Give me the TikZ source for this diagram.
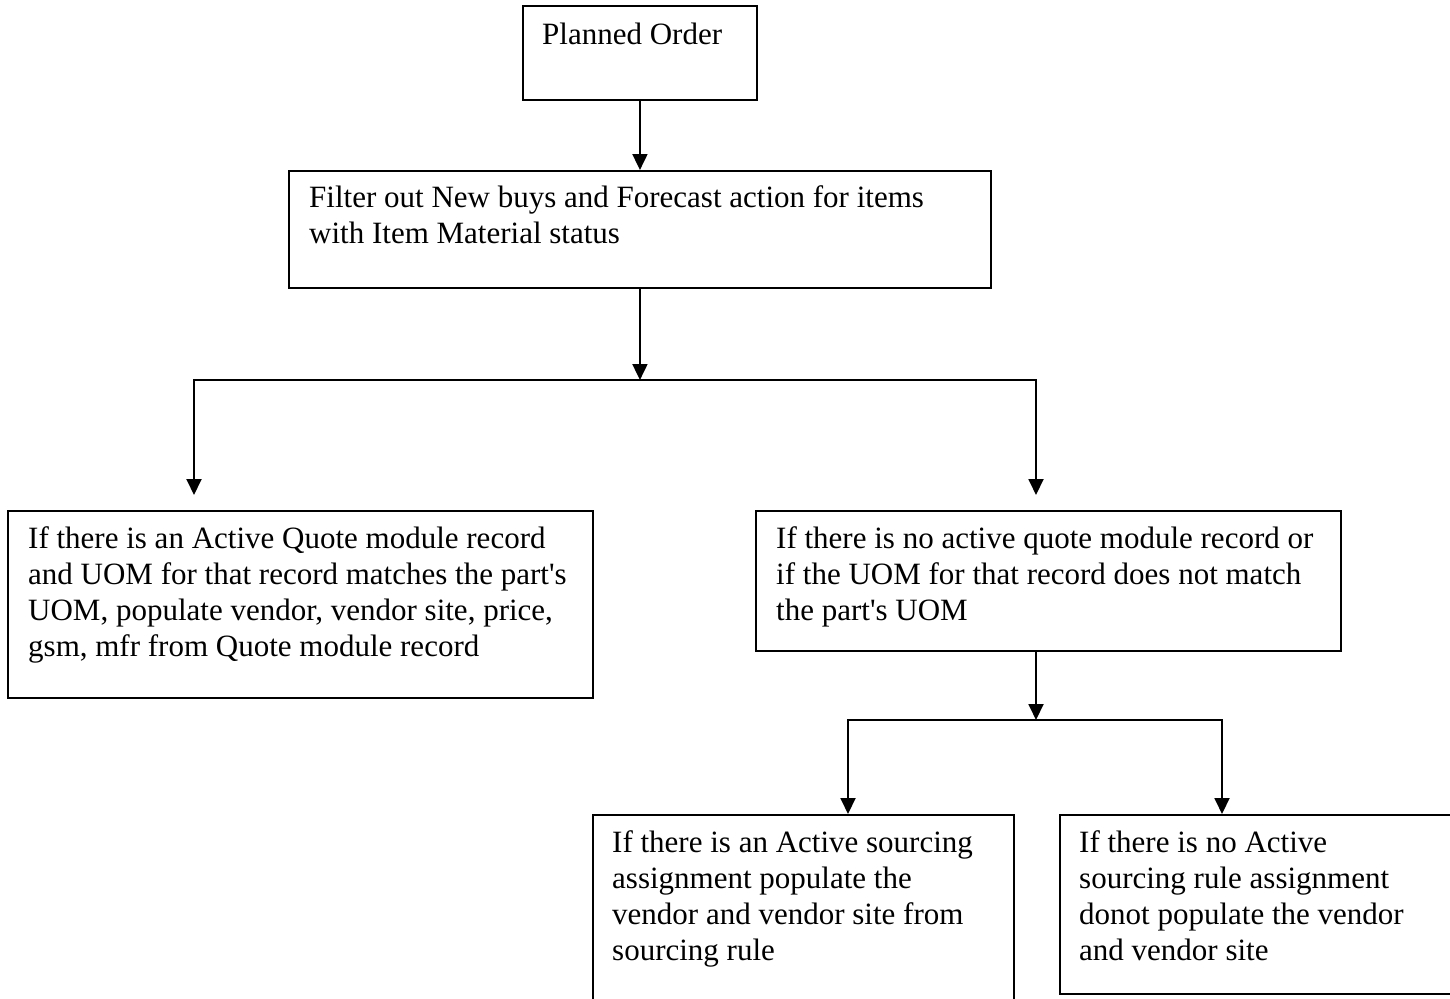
\documentclass[tikz,border=0pt]{standalone}
\usepackage{fontspec}
\setmainfont{Liberation Serif}
\usetikzlibrary{arrows.meta,calc}
\begin{document}
\begin{tikzpicture}[x=1pt,y=-1pt,
  box/.style={draw, line width=1.9pt, inner sep=0pt, anchor=north west},
  txt/.style={anchor=base west, inner sep=0pt, align=left, font=\fontsize{31}{36}\selectfont},
  arr/.style={line width=1.9pt, -{Triangle[width=15pt,length=16pt]}},
  ln/.style={line width=1.9pt, line cap=rect}]
\useasboundingbox (0,0) rectangle (1450,998);
\clip (0,0) rectangle (1450,998);
% boxes
\node[box, minimum width=234pt, minimum height=94pt] (po) at (522,5) {};
\node[box, minimum width=702pt, minimum height=117pt] (filter) at (288,170) {};
\node[box, minimum width=585pt, minimum height=187pt] (lq) at (7,510) {};
\node[box, minimum width=585pt, minimum height=140pt] (nq) at (755,510) {};
\node[box, minimum width=421pt, minimum height=200pt] (bl) at (592,814) {};
\node[box, minimum width=400pt, minimum height=179pt] (br) at (1059,814) {};
% texts (anchored at the baseline of their last line)
\node[txt] (tpo) at (542,45) {Planned Order};
\node[txt] (tfilter) at (309,243) {Filter out New buys and Forecast action for items\\with Item Material status};
\node[txt] (tlq) at (28,656) {If there is an Active Quote module record\\and UOM for that record matches the part\textquotesingle s\\UOM, populate vendor, vendor site, price,\\gsm, mfr from Quote module record};
\node[txt] (tnq) at (776,620) {If there is no active quote module record or\\if the UOM for that record does not match\\the part\textquotesingle s UOM};
\node[txt] (tbl) at (612,960) {If there is an Active sourcing\\assignment populate the\\vendor and vendor site from\\sourcing rule};
\node[txt] (tbr) at (1079,960) {If there is no Active\\sourcing rule assignment\\donot populate the vendor\\and vendor site};
% junctions
\coordinate (j1) at (639,380);
\coordinate (jl) at (194,380);
\coordinate (jr) at (1036,380);
\coordinate (el) at (194,495);
\coordinate (er) at (1036,495);
\coordinate (j2) at (1036,720);
\coordinate (k1) at (848,720);
\coordinate (k2) at (1222,720);
% connectors
\draw[arr] (po.south) -- (filter.north);
\draw[arr] (filter.south) -- (filter.south |- j1);
\draw[ln] (jl) -- (jr);
\draw[arr] (jl) -- (el);
\draw[arr] (jr) -- (er);
\draw[arr] (nq.south -| j2) -- (j2);
\draw[ln] (k1) -- (k2);
\draw[arr] (k1) -- (bl.north -| k1);
\draw[arr] (k2) -- (br.north -| k2);
\end{tikzpicture}
\end{document}
